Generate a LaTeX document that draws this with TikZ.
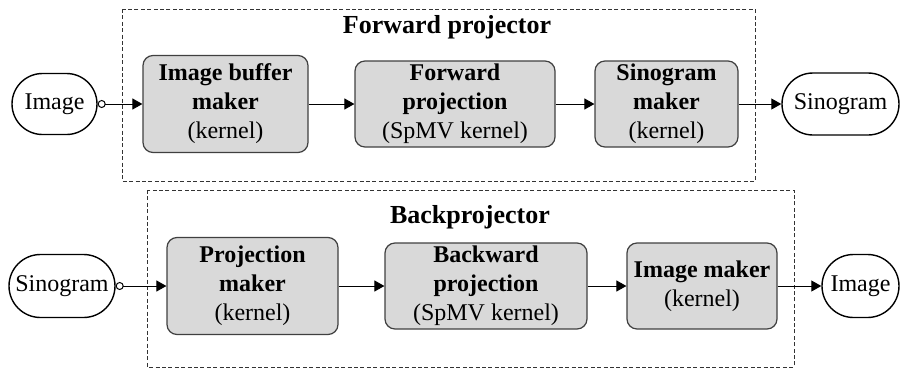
\documentclass[tikz,border=0pt]{standalone}
\usepackage{fontspec}
\setmainfont{Liberation Serif}
\usetikzlibrary{arrows.meta,shapes.misc}

\definecolor{boxgray}{RGB}{217,217,217}
\definecolor{edgegray}{RGB}{64,64,64}

\tikzset{
  kernelbox/.style={draw=edgegray,fill=boxgray,rounded corners=5pt,line width=0.6pt,
    align=center,inner sep=0pt,font=\fontsize{12}{14.5}\selectfont},
  termbox/.style={draw,rounded rectangle,line width=0.7pt,inner sep=0pt,
    font=\fontsize{12}{14.5}\selectfont},
  projframe/.style={draw=black!80,line width=0.45pt,dash pattern=on 2pt off 1.2pt},
  frametitle/.style={anchor=base,font=\fontsize{13}{15}\selectfont\bfseries},
  flow/.style={line width=0.5pt,-{Triangle[length=5pt,width=5.5pt]}},
  tapflow/.style={line width=0.5pt,{Circle[open,length=4pt,width=4pt]}-{Triangle[length=5pt,width=5.5pt]}}
}

\begin{document}
\begin{tikzpicture}[x=0.5pt,y=-0.5pt]
  \useasboundingbox (0,0) rectangle (901,370);

  % dashed frames
  \draw[projframe] (122,9) rectangle (755,181);
  \draw[projframe] (147,190) rectangle (794,367);
  \node[frametitle] (fwdtitle) at (447,33) {Forward projector};
  \node[frametitle] (bwdtitle) at (470,223) {Backprojector};

  % forward projector
  \node[termbox,minimum width=42.5pt,minimum height=30.5pt] (img1) at (54.5,104) {Image};
  \node[kernelbox,minimum width=82.5pt,minimum height=48.5pt] (ibm) at (225.5,104)
    {\textbf{Image buffer}\\\textbf{maker}\\(kernel)};
  \node[kernelbox,minimum width=100pt,minimum height=43pt] (fwd) at (455,104)
    {\textbf{Forward}\\\textbf{projection}\\(SpMV kernel)};
  \node[kernelbox,minimum width=71.5pt,minimum height=43pt] (sgm) at (666.5,104)
    {\textbf{Sinogram}\\\textbf{maker}\\(kernel)};
  \node[termbox,minimum width=58.5pt,minimum height=31pt] (sino1) at (840.5,104) {Sinogram};

  \draw[tapflow] (img1.east) -- (ibm.west);
  \draw[flow] (ibm.east) -- (fwd.west);
  \draw[flow] (fwd.east) -- (sgm.west);
  \draw[flow] (sgm.east) -- (sino1.west);

  % backprojector
  \node[termbox,minimum width=53pt,minimum height=31.5pt] (sino2) at (62,286) {Sinogram};
  \node[kernelbox,minimum width=85.5pt,minimum height=48.5pt] (pjm) at (252.5,286)
    {\textbf{Projection}\\\textbf{maker}\\(kernel)};
  \node[kernelbox,minimum width=101pt,minimum height=43pt] (bwd) at (486,286)
    {\textbf{Backward}\\\textbf{projection}\\(SpMV kernel)};
  \node[kernelbox,minimum width=75pt,minimum height=43pt] (imm) at (702,286)
    {\textbf{Image maker}\\(kernel)};
  \node[termbox,minimum width=38.5pt,minimum height=31.5pt] (img2) at (860.5,286) {Image};

  \draw[tapflow] (sino2.east) -- (pjm.west);
  \draw[flow] (pjm.east) -- (bwd.west);
  \draw[flow] (bwd.east) -- (imm.west);
  \draw[flow] (imm.east) -- (img2.west);
\end{tikzpicture}
\end{document}
